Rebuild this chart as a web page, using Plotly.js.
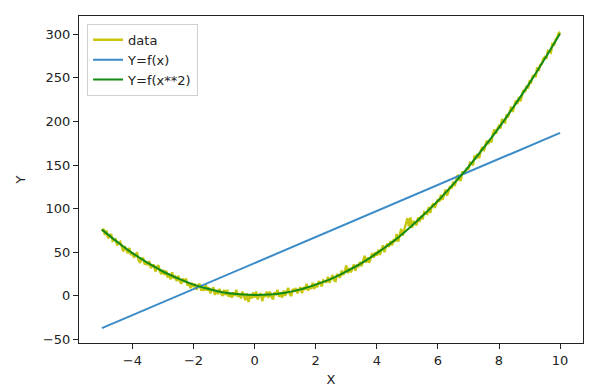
<!DOCTYPE html>
<html>
<head>
<meta charset="utf-8">
<script src="https://cdn.plot.ly/plotly-3.0.1.min.js"></script>
<style>html,body{margin:0;padding:0;background:#fff;}#chart{width:596px;height:392px;}</style>
</head>
<body>
<div id="chart"></div>
<script>
// noisy samples, x from -5 to 10 in steps of 0.05
const xStart = -5, xStep = 0.05;
const dataY = [
 74,77,70,75,66,69,71,63,64,65,
 58,61,62,56,51,57,53,49,55,47,
 50,44,47,50,41,38,43,43,36,39,
 35,40,32,34,36,28,33,35,28,25,
 30,24,29,21,25,19,27,20,22,17,
 23,17,14,20,16,20,12,15,9,15,
 10,14,7,12,14,6,10,6,13,6,
 10,3,7,10,1,7,2,8,3,0,
 7,1,7,-1,3,-2,4,0,7,-1,
 3,-3,5,-1,-5,3,-7,2,-3,4,
 -2,5,-4,1,3,-6,2,-1,5,-2,
 5,-1,-4,4,2,7,-1,4,-2,6,
 0,5,9,2,0,8,5,9,3,7,
 10,3,10,7,14,6,11,8,15,8,
 14,10,17,14,11,18,17,15,22,15,
 20,24,18,17,25,23,21,29,24,28,
 35,26,32,27,32,36,29,36,34,39,
 34,40,46,38,44,38,44,49,44,50,
 46,53,47,54,58,50,57,60,56,63,
 58,65,62,71,62,70,77,69,76,84,
 89,80,90,78,86,84,81,90,85,92,
 88,96,95,94,102,95,103,106,101,107,
 111,108,116,110,117,122,115,122,126,123,
 131,126,133,139,133,133,142,142,140,147,
 145,153,152,150,161,157,163,158,166,171,
 166,173,178,174,179,176,186,191,186,192,
 195,192,203,200,199,208,206,211,217,211,
 219,224,220,228,223,231,236,234,241,238,
 246,245,252,253,251,262,258,265,266,272,
 274,272,281,280,279,290,287,294,296,301,
 303
];
const dataX = dataY.map((_, i) => +(xStart + i * xStep).toFixed(2));

// linear fit Y=f(x)
const linX = [-5, 10];
const linY = [-37, 187];

// quadratic fit Y=f(x**2)
const quadX = [-5,-4.5,-4,-3.5,-3,-2.5,-2,-1.5,-1,-0.5,0,0.5,1,1.5,2,2.5,3,3.5,4,4.5,5,5.5,6,6.5,7,7.5,8,8.5,9,9.5,10];
const quadY = [76,62,49,38,28,20,13,8,4,2,1,1.5,3.5,7.5,13,19.5,28,37.5,49,61.5,76,92,109,128,148,170,193,218,244,272,301];

const labels = ['data', 'Y=f(x)', 'Y=f(x**2)'];
const xTicks = [-4,-2,0,2,4,6,8,10];
const yTicks = [-50,0,50,100,150,200,250,300];

const traces = [
  {x: dataX, y: dataY, mode: 'lines', name: labels[0], line: {color: '#c6c60e', width: 2.4}},
  {x: linX, y: linY, mode: 'lines', name: labels[1], line: {color: '#3a8bc6', width: 2}},
  {x: quadX, y: quadY, mode: 'lines', name: labels[2], line: {color: '#138a13', width: 2, shape: 'spline'}}
];

const fnt = {family: 'DejaVu Sans', size: 13, color: '#222'};
const axisCommon = {
  showgrid: false, zeroline: false,
  showline: true, mirror: true, linecolor: '#222', linewidth: 1,
  ticks: 'outside', ticklen: 5, tickcolor: '#222', tickwidth: 1,
  tickfont: fnt
};

const layout = {
  width: 596, height: 392,
  margin: {l: 79, r: 13, t: 16, b: 49},
  paper_bgcolor: '#fff', plot_bgcolor: '#fff',
  font: fnt,
  xaxis: Object.assign({}, axisCommon, {
    range: [-5.75, 10.75], tickvals: xTicks, ticktext: xTicks.map(v => v < 0 ? '\u2212' + Math.abs(v) : String(v)),
    title: {text: 'X', font: fnt, standoff: 8}
  }),
  yaxis: Object.assign({}, axisCommon, {
    range: [-54, 321], tickvals: yTicks, ticktext: yTicks.map(v => v < 0 ? '\u2212' + Math.abs(v) : String(v)),
    title: {text: 'Y', font: fnt, standoff: 14}
  }),
  showlegend: true,
  legend: {
    x: 0.016, y: 0.976, xanchor: 'left', yanchor: 'top',
    bgcolor: 'rgba(255,255,255,0.8)', bordercolor: '#d0d0d0', borderwidth: 1,
    font: fnt,
    tracegroupgap: 0
  }
};

Plotly.newPlot('chart', traces, layout, {displayModeBar: false, staticPlot: true});
</script>
</body>
</html>
